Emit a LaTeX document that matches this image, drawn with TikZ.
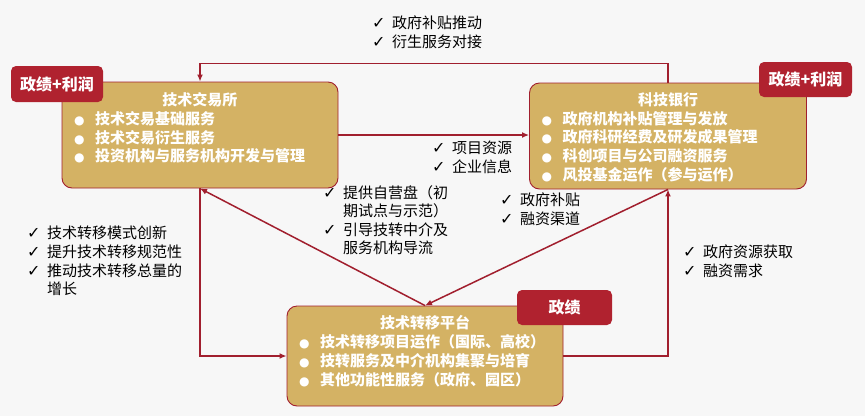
\documentclass[tikz,border=0pt]{standalone}
\usepackage{fontspec}
\setmainfont{Noto Sans CJK SC}
\newfontfamily\symfont{DejaVu Sans}
\usetikzlibrary{positioning,arrows.meta}
\definecolor{gold}{HTML}{D4B264}
\definecolor{wine}{HTML}{A11F2E}
\definecolor{tagred}{HTML}{B0222F}
\definecolor{bg}{HTML}{F7F7F7}
\newcommand{\bul}{\makebox[21pt][l]{\symfont\fontsize{12}{12}\selectfont ●}}
\newcommand{\chk}{\makebox[20pt][l]{\symfont\fontsize{16}{16}\selectfont ✓}}
\newcommand{\ind}{\hspace*{20pt}}

\begin{document}
\begin{tikzpicture}[x=1pt, y=-1pt, >={Latex[length=7pt,width=6pt]},
	box/.style = {draw=wine, line width=0.9pt, fill=gold, rounded corners=10pt},
	txt/.style = {inner sep=0pt, align=left, text=white, font=\bfseries\fontsize{15}{18.7}\selectfont},
	tag/.style = {fill=tagred, rounded corners=5pt, text=white, inner sep=0pt, font=\bfseries\fontsize{16}{16}\selectfont},
	note/.style = {inner sep=0pt, anchor=north west, align=left, font=\fontsize{15}{18.6}\selectfont},
	link/.style = {draw=wine, line width=1.5pt}]
	\fill[bg] (0,0) rectangle (865,416);
	\useasboundingbox (0,0) rectangle (865,416);

	\node[box, minimum width=276pt, minimum height=106pt] (1) at (200,135) {};
	\node[txt, text width=252pt, below=11pt of 1.north] (1t) {\makebox[\hsize]{技术交易所}\\
		\bul 技术交易基础服务\\ \bul 技术交易衍生服务\\ \bul 投资机构与服务机构开发与管理};
	\node[box, minimum width=277pt, minimum height=106pt] (2) at (668,136) {};
	\node[txt, text width=253pt, below=10pt of 2.north] (2t) {\makebox[\hsize]{科技银行}\\
		\bul 政府机构补贴管理与发放\\ \bul 政府科研经费及研发成果管理\\ \bul 科创项目与公司融资服务\\ \bul 风投基金运作（参与运作）};
	\node[box, minimum width=276pt, minimum height=100pt] (3) at (425,356) {};
	\node[txt, text width=252pt, below=10pt of 3.north] (3t) {\makebox[\hsize]{技术转移平台}\\
		\bul 技术转移项目运作（国际、高校）\\ \bul 技转服务及中介机构集聚与培育\\ \bul 其他功能性服务（政府、园区）};

	\node[tag, minimum width=92pt, minimum height=36pt] (4) at (57,84) {政绩+利润};
	\node[tag, minimum width=93pt, minimum height=35pt] (5) at (805.5,79.5) {政绩+利润};
	\node[tag, minimum width=95pt, minimum height=35pt] (6) at (564.5,307.5) {政绩};

	\draw[link, ->] (2.north) -- ++(0,-19) -| (1.north);
	\draw[link, ->] (1.east) -- (1.east -| 2.west);
	\draw[link, ->] (1.south) |- (3.west);
	\draw[link, ->] (3.north) -- (1.south);
	\draw[link, ->] (2.south) -- (3.north);
	\draw[link, ->] (3.east) -| (2.south);

	\node[note] (7) at (372,16) {\chk 政府补贴推动\\ \chk 衍生服务对接};
	\node[note] (8) at (432,141) {\chk 项目资源\\ \chk 企业信息};
	\node[note] (9) at (323,185) {\chk 提供自营盘（初\\ \ind 期试点与示范）\\ \chk 引导技转中介及\\ \ind 服务机构导流};
	\node[note] (10) at (500,193) {\chk 政府补贴\\ \chk 融资渠道};
	\node[note] (11) at (27,226) {\chk 技术转移模式创新\\ \chk 提升技术转移规范性\\ \chk 推动技术转移总量的\\ \ind 增长};
	\node[note] (12) at (683,245) {\chk 政府资源获取\\ \chk 融资需求};
\end{tikzpicture}
\end{document}
